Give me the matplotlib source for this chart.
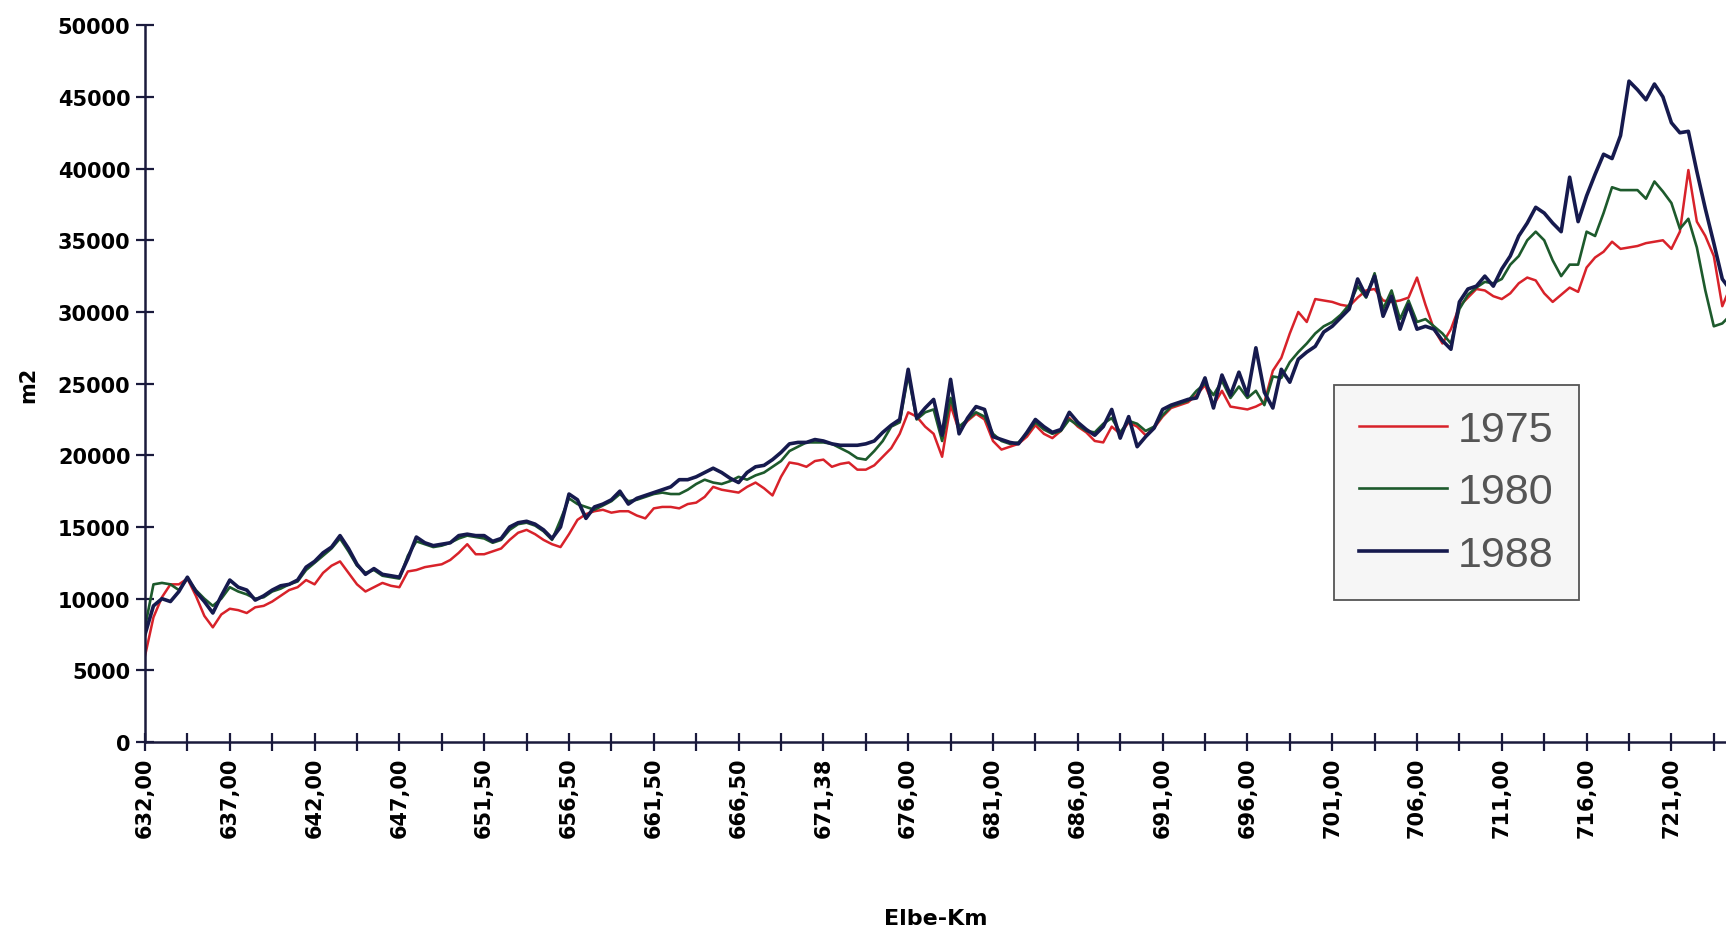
import matplotlib.pyplot as plt
import numpy as np

# Elbe-Km labels shown on the category axis (one label every 10 categories)
km_labels = ["632,00", "637,00", "642,00", "647,00", "651,50", "656,50", "661,50",
             "666,50", "671,38", "676,00", "681,00", "686,00", "691,00", "696,00",
             "701,00", "706,00", "711,00", "716,00", "721,00"]

# area values in m2, one per category (0.5 km steps)
y1975 = [6000, 8700, 10100, 11000, 11000, 11400, 10200, 8800, 8000, 8900,
         9300, 9200, 9000, 9400, 9500, 9800, 10200, 10600, 10800, 11300,
         11000, 11800, 12300, 12600, 11800, 11000, 10500, 10800, 11100, 10900,
         10800, 11900, 12000, 12200, 12300, 12400, 12700, 13200, 13800, 13100,
         13100, 13300, 13500, 14100, 14600, 14800, 14500, 14100, 13800, 13600,
         14500, 15500, 15900, 16100, 16200, 16000, 16100, 16100, 15800, 15600,
         16300, 16400, 16400, 16300, 16600, 16700, 17100, 17800, 17600, 17500,
         17400, 17800, 18100, 17700, 17200, 18500, 19500, 19400, 19200, 19600,
         19700, 19200, 19400, 19500, 19000, 19000, 19300, 19900, 20500, 21500,
         23000, 22700, 22000, 21500, 19900, 23500, 21700, 22400, 22900, 22500,
         21000, 20400, 20600, 20800, 21300, 22100, 21500, 21200, 21700, 22600,
         22000, 21600, 21000, 20900, 22000, 21500, 22300, 22000, 21400, 21900,
         22700, 23300, 23500, 23700, 24200, 24900, 23500, 24500, 23400, 23300,
         23200, 23400, 23700, 25900, 26800, 28500, 30000, 29300, 30900, 30800,
         30700, 30500, 30400, 31000, 31500, 31600, 30800, 30700, 30800, 31000,
         32400, 30500, 28800, 27800, 28800, 30400, 31000, 31600, 31500, 31100,
         30900, 31300, 32000, 32400, 32200, 31300, 30700, 31200, 31700, 31400,
         33100, 33800, 34200, 34900, 34400, 34500, 34600, 34800, 34900, 35000,
         34400, 35600, 39900, 36300, 35300, 33900, 30400, 31800]

y1980 = [8000, 11000, 11100, 11000, 10600, 11400, 10600, 10000, 9500, 10000,
         10800, 10500, 10300, 10000, 10100, 10500, 10700, 11000, 11200, 12000,
         12500, 13000, 13500, 14200, 13300, 12300, 11800, 12000, 11600, 11500,
         11400, 13000, 14000, 13800, 13600, 13700, 13900, 14200, 14400, 14300,
         14200, 13900, 14100, 14800, 15200, 15300, 15100, 14700, 14100, 15500,
         17000, 16600, 16400, 16200, 16500, 16800, 17300, 16800, 16900, 17100,
         17300, 17400, 17300, 17300, 17600, 18000, 18300, 18100, 18000, 18200,
         18500, 18300, 18600, 18800, 19200, 19600, 20300, 20600, 20900, 20900,
         20900, 20800, 20500, 20200, 19800, 19700, 20300, 21000, 22000, 22300,
         25600, 22500, 23000, 23200, 21000, 24000, 22000, 22500, 23000, 22700,
         21500, 21000, 20800, 20900, 21500, 22300, 21800, 21500, 21700, 22500,
         22100, 21700, 21600, 22200, 22600, 21600, 22400, 22200, 21700, 22000,
         22800, 23400, 23600, 23800, 24500, 25000, 24200, 25200, 24000, 24800,
         24000, 24500, 23500, 25500, 25400, 26500, 27200, 27800, 28500, 29000,
         29300, 29800, 30500, 31800, 31000, 32700, 30200, 31500, 29500, 30800,
         29300, 29500, 29000, 28500, 27800, 30200, 31200, 31700, 32100, 32000,
         32300, 33300, 33900, 35000, 35600, 35000, 33600, 32500, 33300, 33300,
         35600, 35300, 36900, 38700, 38500, 38500, 38500, 37900, 39100, 38400,
         37600, 35800, 36500, 34500, 31500, 29000, 29200, 29800]

y1988 = [7500, 9500, 10000, 9800, 10500, 11500, 10500, 9800, 9000, 10200,
         11300, 10800, 10600, 9900, 10200, 10600, 10900, 11000, 11300, 12200,
         12600, 13200, 13600, 14400, 13500, 12400, 11700, 12100, 11700, 11600,
         11500, 12800, 14300, 13900, 13700, 13800, 13900, 14400, 14500, 14400,
         14400, 14000, 14200, 15000, 15300, 15400, 15200, 14800, 14200, 15000,
         17300, 16900, 15600, 16400, 16600, 16900, 17500, 16600, 17000, 17200,
         17400, 17600, 17800, 18300, 18300, 18500, 18800, 19100, 18800, 18400,
         18100, 18800, 19200, 19300, 19700, 20200, 20800, 20900, 20900, 21100,
         21000, 20800, 20700, 20700, 20700, 20800, 21000, 21600, 22100, 22500,
         26000, 22600, 23300, 23900, 21400, 25300, 21500, 22600, 23400, 23200,
         21300, 21100, 20900, 20800, 21600, 22500, 22000, 21600, 21800, 23000,
         22300, 21800, 21400, 22000, 23200, 21200, 22700, 20600, 21300, 21900,
         23200, 23500, 23700, 23900, 24000, 25400, 23300, 25600, 24200, 25800,
         24200, 27500, 24400, 23300, 26000, 25100, 26700, 27200, 27600, 28600,
         29000, 29600, 30200, 32300, 31100, 32500, 29700, 31100, 28800, 30500,
         28800, 29000, 28800, 28000, 27400, 30700, 31600, 31800, 32500, 31800,
         33000, 33900, 35300, 36200, 37300, 36900, 36200, 35600, 39400, 36300,
         38100, 39600, 41000, 40700, 42300, 46100, 45500, 44800, 45900, 45000,
         43200, 42500, 42600, 39800, 37200, 34800, 32300, 31500]

years = ["1975", "1980", "1988"]
colors = ["#d8222a", "#1d5a2c", "#161a4e"]
widths = [1.8, 1.9, 2.6]

fig = plt.figure(figsize=(17.26, 9.37), dpi=100)
# axes runs past the right edge, as in the cropped original
ax = fig.add_axes([0.084, 0.207, 0.9335, 0.765])

x = np.arange(len(y1988))
for vals, name, c, lw in zip([y1975, y1980, y1988], years, colors, widths):
    ax.plot(x, vals, color=c, lw=lw, label=name)

ax.set_xlim(0, 190)
ax.set_ylim(0, 50000)

tick_pos = np.arange(0, 190, 5)
tick_lab = [km_labels[k // 10] if k % 10 == 0 and k // 10 < len(km_labels) else "" for k in tick_pos]
ax.set_xticks(tick_pos)
ax.set_xticklabels(tick_lab, rotation=90, fontsize=15, fontweight="bold", family="DejaVu Sans")
ax.set_yticks(np.arange(0, 50001, 5000))
ax.set_yticklabels([str(v) for v in range(0, 50001, 5000)], fontsize=15,
                   fontweight="bold", family="DejaVu Sans")

for s in ["top", "right"]:
    ax.spines[s].set_visible(False)
for s in ["left", "bottom"]:
    ax.spines[s].set_color("#1a1a3c")
    ax.spines[s].set_linewidth(1.8)
ax.tick_params(axis="both", direction="inout", length=13, width=1.6, color="#1a1a3c")
ax.tick_params(axis="x", pad=4)
ax.tick_params(axis="y", pad=4)

ax.set_ylabel("m2", fontsize=15, fontweight="bold", family="DejaVu Sans", labelpad=14)
ax.set_xlabel("Elbe-Km", fontsize=16, fontweight="bold", family="DejaVu Sans")
ax.xaxis.set_label_coords((936 - 145) / (0.9335 * 1726), -0.232)

leg = ax.legend(loc="upper left", bbox_to_anchor=(0.7605, 0.611), bbox_transform=fig.transFigure,
                prop={"family": "Liberation Sans", "size": 31}, handlelength=2.05,
                handletextpad=0.25, labelspacing=0.52, borderpad=0.58, fancybox=False,
                framealpha=1, facecolor="#f6f6f6", edgecolor="#555555")
leg.get_frame().set_linewidth(1.3)
for t in leg.get_texts():
    t.set_color("#555555")

fig.savefig("out.png", dpi=100)
